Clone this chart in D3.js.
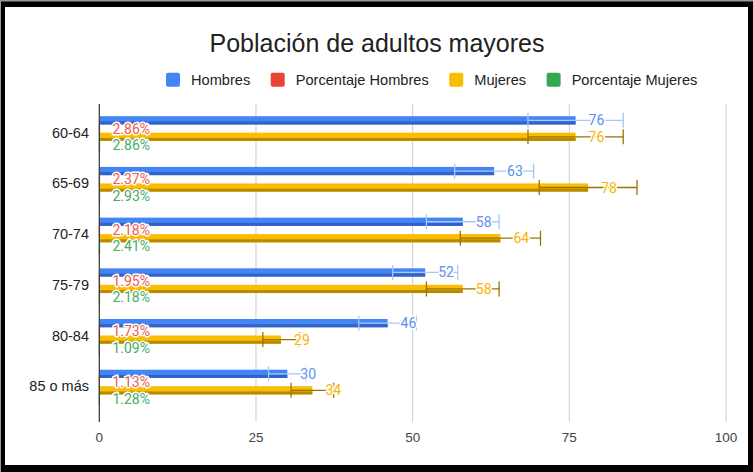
<!DOCTYPE html>
<html><head><meta charset="utf-8">
<script src="https://cdn.jsdelivr.net/npm/d3@7"></script>
<style>html,body{margin:0;padding:0;background:#fff}svg{display:block}</style>
</head><body>
<svg id="chart" width="753" height="472"></svg>
<script>
const categories = ["60-64","65-69","70-74","75-79","80-84","85 o más"];
const hombres = [76,63,58,52,46,30];
const mujeres = [76,78,64,58,29,34];
const pctHombres = [2.86,2.37,2.18,1.95,1.73,1.13];
const pctMujeres = [2.86,2.93,2.41,2.18,1.09,1.28];
const seriesNames = ["Hombres","Porcentaje Hombres","Mujeres","Porcentaje Mujeres"];
const xTicks = [0,25,50,75,100];

const colors = ["#4285f4","#ea4335","#fbbc04","#34a853"];
const darkColors = ["#3162c6","#b8322a","#b88a00","#25803f"];
const errColors = ["#a9c6f7","#f19a93","#9b7400","#86c99a"];
const labelColors = ["#5b8ff0","#ee5b50","#f7b500","#45ad64"];

const series = [
  {name: seriesNames[0], vals: hombres, fmt: d => d3.format("d")(d), scale: 1},
  {name: seriesNames[1], vals: pctHombres, fmt: d => d3.format(".2f")(d)+"%", scale: 0.01},
  {name: seriesNames[2], vals: mujeres, fmt: d => d3.format("d")(d), scale: 1},
  {name: seriesNames[3], vals: pctMujeres, fmt: d => d3.format(".2f")(d)+"%", scale: 0.01}
];

const svg = d3.select("#chart");
// frame
svg.append("rect").attr("x",0).attr("y",0).attr("width",753).attr("height",472).attr("fill","#000");
svg.append("rect").attr("x",0).attr("y",0).attr("width",753).attr("height",1.5).attr("fill","#999");
svg.append("rect").attr("x",0).attr("y",0).attr("width",1).attr("height",472).attr("fill","#999");
svg.append("rect").attr("x",5).attr("y",7).attr("width",743).attr("height",458).attr("fill","#fff");

const x = d3.scaleLinear().domain([0,100]).range([99.3,726]);
const y = d3.scaleBand().domain(categories).range([107.35,411.55]).paddingInner(0.35).paddingOuter(0.175);
const yi = d3.scaleBand().domain(seriesNames).range([0,y.bandwidth()]);

const font = "'Liberation Sans', Arial, sans-serif";

// title
svg.append("text").attr("x",377).attr("y",52).attr("text-anchor","middle")
  .attr("font-family",font).attr("font-size",25).attr("fill","#222").text("Población de adultos mayores");

// legend
let lx = 166;
const legend = svg.append("g");
seriesNames.forEach((n,i)=>{
  legend.append("rect").attr("x",lx).attr("y",72.7).attr("width",14).attr("height",14).attr("rx",2).attr("fill",colors[i]);
  const t = legend.append("text").attr("x",lx+25).attr("y",85).attr("font-family",font).attr("font-size",14.6).attr("fill","#222").text(n);
  lx += 25 + t.node().getComputedTextLength() + 20.5;
});

// gridlines
svg.append("g").selectAll("line").data(xTicks.filter(d=>d>0)).join("line")
  .attr("x1",d=>x(d)).attr("x2",d=>x(d)).attr("y1",104).attr("y2",422)
  .attr("stroke","#cccccc").attr("stroke-width",1);

// x tick labels
svg.append("g").selectAll("text").data(xTicks).join("text")
  .attr("x",d=>x(d)).attr("y",442).attr("text-anchor","middle")
  .attr("font-family",font).attr("font-size",13.5).attr("fill","#444").text(d=>d);

// y labels
svg.append("g").selectAll("text").data(categories).join("text")
  .attr("x",89).attr("y",d=>y(d)+y.bandwidth()/2+5).attr("text-anchor","end")
  .attr("font-family",font).attr("font-size",14.5).attr("fill","#222").text(d=>d);

// bars
const barsG = svg.append("g");
const errG = svg.append("g");
const labG = svg.append("g");
series.forEach((s,si)=>{
  const data = s.vals.map((v,i)=>({cat:categories[i], v, val:v*s.scale}));
  const h = yi.bandwidth();
  const g = barsG.append("g");
  g.selectAll("rect.main").data(data).join("rect").attr("class","main")
    .attr("x",x(0)).attr("y",d=>y(d.cat)+yi(s.name))
    .attr("width",d=>x(d.val)-x(0)).attr("height",h).attr("fill",colors[si]);
  g.selectAll("rect.shade").data(data).join("rect").attr("class","shade")
    .attr("x",x(0)).attr("y",d=>y(d.cat)+yi(s.name)+h-3)
    .attr("width",d=>x(d.val)-x(0)).attr("height",3).attr("fill",darkColors[si]);
  // error bars ±10%
  const eg = errG.append("g").attr("stroke",errColors[si]).attr("stroke-width",1.3).attr("fill","none");
  data.forEach(d=>{
    const cy = y(d.cat)+yi(s.name)+h/2;
    const lo = x(d.val*0.9), hi = x(d.val*1.1);
    eg.append("line").attr("x1",lo).attr("x2",hi).attr("y1",cy).attr("y2",cy);
    eg.append("line").attr("x1",lo).attr("x2",lo).attr("y1",cy-7.5).attr("y2",cy+7.5);
    eg.append("line").attr("x1",hi).attr("x2",hi).attr("y1",cy-7.5).attr("y2",cy+7.5);
  });
  labG.append("g").selectAll("text").data(data).join("text")
    .attr("x",d=>x(d.val)+13).attr("y",d=>y(d.cat)+yi(s.name)+h/2+5)
    .attr("font-family","Roboto, sans-serif").attr("font-size",14)
    .attr("fill",labelColors[si]).attr("stroke","#fff").attr("stroke-width",3)
    .attr("stroke-linejoin","round").attr("paint-order","stroke")
    .text(d=>s.fmt(d.v));
});

// zero axis line
svg.append("line").attr("x1",x(0)).attr("x2",x(0)).attr("y1",104).attr("y2",422)
  .attr("stroke","#333").attr("stroke-width",1.2);
</script>
</body></html>
